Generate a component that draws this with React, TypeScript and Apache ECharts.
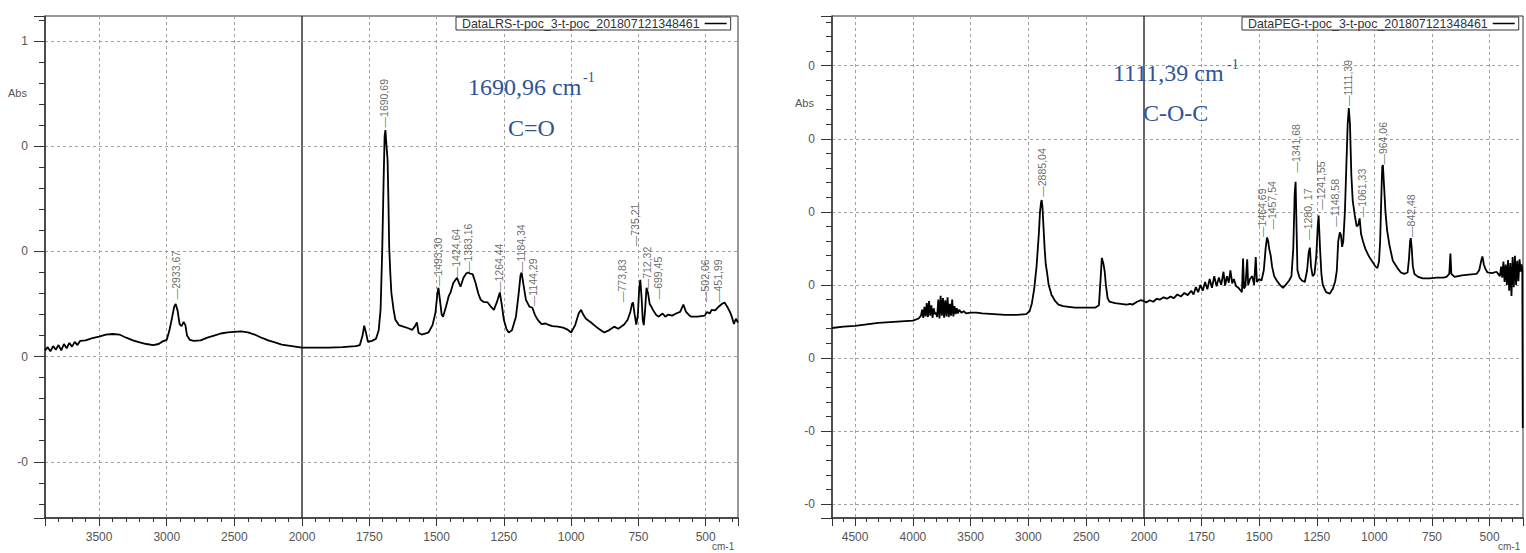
import React, { useEffect, useRef } from "react";
import * as echarts from "echarts";

const legendLeft = "DataLRS-t-poc_3-t-poc_201807121348461";
const legendRight = "DataPEG-t-poc_3-t-poc_201807121348461";

// Left spectrum (LRS): [wavenumber cm-1, absorbance]
const lrsSpectrum: [number, number][] = [
  [3900, 0.012], [3880, 0.018], [3860, 0.010], [3840, 0.020], [3820, 0.013], [3800, 0.022],
  [3780, 0.012], [3760, 0.024], [3740, 0.016], [3720, 0.026], [3700, 0.019], [3680, 0.028],
  [3660, 0.022], [3640, 0.030], [3600, 0.031], [3550, 0.035], [3500, 0.038], [3450, 0.042],
  [3400, 0.043], [3350, 0.042], [3300, 0.036], [3250, 0.031], [3200, 0.027], [3150, 0.024],
  [3100, 0.022], [3060, 0.024], [3030, 0.029], [3000, 0.032], [2980, 0.050], [2960, 0.075],
  [2945, 0.095], [2934, 0.100], [2920, 0.088], [2905, 0.062], [2890, 0.058], [2875, 0.066],
  [2862, 0.060], [2850, 0.040], [2830, 0.032], [2800, 0.030], [2750, 0.031], [2700, 0.036],
  [2650, 0.040], [2600, 0.044], [2550, 0.046], [2500, 0.047], [2450, 0.048], [2400, 0.046],
  [2350, 0.042], [2300, 0.036], [2250, 0.031], [2200, 0.027], [2150, 0.023], [2100, 0.021],
  [2050, 0.019], [2000, 0.017],
  [1950, 0.017], [1900, 0.017], [1850, 0.018], [1800, 0.020], [1785, 0.022], [1775, 0.040],
  [1769, 0.059], [1762, 0.045], [1755, 0.028], [1740, 0.030], [1725, 0.034], [1715, 0.050],
  [1708, 0.090], [1702, 0.200], [1697, 0.330], [1693, 0.420], [1690, 0.431], [1686, 0.400],
  [1682, 0.374], [1679, 0.300], [1676, 0.209], [1672, 0.160], [1668, 0.122], [1660, 0.090],
  [1653, 0.070], [1640, 0.060], [1623, 0.057], [1605, 0.054], [1590, 0.051], [1580, 0.058],
  [1573, 0.065], [1567, 0.045], [1555, 0.042], [1540, 0.044], [1530, 0.046], [1515, 0.060],
  [1504, 0.084], [1497, 0.120], [1493, 0.131], [1488, 0.110], [1481, 0.080], [1476, 0.076],
  [1465, 0.095], [1455, 0.115], [1448, 0.122], [1438, 0.140], [1424, 0.150], [1415, 0.138],
  [1411, 0.133], [1400, 0.150], [1390, 0.158], [1383, 0.160], [1375, 0.158], [1366, 0.157],
  [1355, 0.140], [1345, 0.120], [1336, 0.108], [1325, 0.104], [1310, 0.103], [1298, 0.095],
  [1287, 0.089], [1275, 0.105], [1265, 0.122], [1258, 0.100], [1250, 0.070], [1240, 0.052],
  [1232, 0.046], [1220, 0.050], [1205, 0.076], [1195, 0.120], [1188, 0.155], [1184, 0.160],
  [1178, 0.140], [1168, 0.108], [1155, 0.095], [1144, 0.093], [1135, 0.080], [1124, 0.070],
  [1110, 0.062], [1095, 0.063], [1086, 0.061], [1070, 0.058], [1049, 0.057], [1030, 0.055],
  [1015, 0.052], [1000, 0.046], [985, 0.060], [972, 0.082], [963, 0.089], [955, 0.080],
  [945, 0.072], [926, 0.065], [910, 0.058], [895, 0.052], [877, 0.046], [860, 0.050],
  [840, 0.057], [825, 0.053], [803, 0.061], [790, 0.070], [780, 0.085], [774, 0.100],
  [770, 0.103], [764, 0.080], [758, 0.061], [752, 0.080], [747, 0.130], [743, 0.146],
  [738, 0.110], [734, 0.070], [730, 0.060], [725, 0.090], [720, 0.131], [714, 0.120],
  [708, 0.100], [702, 0.095], [695, 0.088], [685, 0.080], [676, 0.076], [660, 0.082],
  [650, 0.076], [639, 0.080], [625, 0.078], [610, 0.082], [595, 0.085], [583, 0.099],
  [573, 0.085], [560, 0.078], [553, 0.076], [530, 0.076], [504, 0.078], [495, 0.085],
  [485, 0.082], [478, 0.089], [465, 0.088], [452, 0.095], [440, 0.100], [430, 0.103],
  [420, 0.095], [410, 0.085], [403, 0.076], [395, 0.062], [388, 0.072], [380, 0.065],
];

const lrsPeakWn = [2933.67, 1690.69, 1493.3, 1424.64, 1383.16, 1264.44, 1184.34, 1144.29, 773.83, 735.21, 712.32, 699.45, 502.06, 451.99];
const lrsPeakLabel = ["2933,67", "1690,69", "1493,30", "1424,64", "1383,16", "1264,44", "1184,34", "1144,29", "773,83", "735,21", "712,32", "699,45", "502,06", "451,99"];
// wavenumber where each label is written, and the absorbance where its leader starts
const lrsPeakLabelWn = [2931, 1695, 1495, 1428, 1383, 1268, 1186, 1142, 811, 763, 718, 677, 502, 454];
const lrsPeakAbs = [0.108, 0.435, 0.133, 0.150, 0.160, 0.122, 0.160, 0.095, 0.103, 0.209, 0.127, 0.108, 0.103, 0.103];

// Right spectrum (PEG)
const pegSpectrum: [number, number][] = [
  [4700, 0.041], [4600, 0.043], [4500, 0.044], [4400, 0.046], [4300, 0.048], [4200, 0.049],
  [4100, 0.050], [4000, 0.051], [3950, 0.054], [3930, 0.058], [3920, 0.066], [3910, 0.055],
  [3900, 0.070], [3890, 0.057], [3880, 0.075], [3870, 0.056], [3860, 0.078], [3850, 0.058],
  [3840, 0.072], [3830, 0.055], [3820, 0.068], [3810, 0.060], [3800, 0.062], [3790, 0.056],
  [3780, 0.080], [3770, 0.054], [3760, 0.085], [3750, 0.058], [3740, 0.082], [3730, 0.055],
  [3720, 0.079], [3710, 0.057], [3700, 0.083], [3690, 0.056], [3680, 0.074], [3670, 0.058],
  [3660, 0.080], [3650, 0.057], [3640, 0.071], [3630, 0.060], [3620, 0.068], [3610, 0.061],
  [3600, 0.066], [3580, 0.062], [3560, 0.064], [3540, 0.061], [3500, 0.062], [3450, 0.062],
  [3400, 0.061], [3300, 0.060], [3200, 0.059], [3100, 0.059], [3020, 0.060], [2990, 0.064],
  [2970, 0.075], [2950, 0.095], [2930, 0.125], [2910, 0.170], [2900, 0.200], [2890, 0.214],
  [2885, 0.216], [2878, 0.205], [2870, 0.180], [2860, 0.150], [2850, 0.128], [2840, 0.118],
  [2825, 0.100], [2810, 0.092], [2800, 0.086], [2787, 0.083], [2770, 0.078], [2740, 0.073],
  [2700, 0.071], [2600, 0.069], [2500, 0.069], [2420, 0.069], [2390, 0.072], [2375, 0.110],
  [2365, 0.137], [2358, 0.133], [2350, 0.128], [2340, 0.118], [2330, 0.100], [2315, 0.082],
  [2300, 0.077], [2250, 0.075], [2200, 0.074], [2150, 0.073], [2120, 0.074], [2100, 0.073],
  [2060, 0.077], [2030, 0.079], [2000, 0.078],
  [1990, 0.076], [1975, 0.079], [1960, 0.077], [1945, 0.081], [1930, 0.080], [1915, 0.083],
  [1900, 0.081], [1885, 0.084], [1870, 0.082], [1855, 0.087], [1840, 0.084], [1825, 0.089],
  [1810, 0.086], [1795, 0.092], [1785, 0.087], [1775, 0.097], [1765, 0.090], [1755, 0.100],
  [1745, 0.092], [1735, 0.104], [1725, 0.094], [1715, 0.108], [1705, 0.096], [1695, 0.112],
  [1685, 0.098], [1675, 0.110], [1665, 0.100], [1655, 0.118], [1648, 0.099], [1640, 0.112],
  [1632, 0.103], [1625, 0.120], [1617, 0.102], [1610, 0.108], [1600, 0.098], [1590, 0.096],
  [1580, 0.092], [1575, 0.090], [1570, 0.136], [1566, 0.095], [1560, 0.098], [1552, 0.135],
  [1548, 0.100], [1540, 0.108], [1530, 0.112], [1522, 0.100], [1515, 0.138], [1510, 0.104],
  [1500, 0.108], [1490, 0.106], [1480, 0.120], [1472, 0.150], [1466, 0.165], [1461, 0.160],
  [1457, 0.150], [1450, 0.140], [1444, 0.125], [1435, 0.112], [1424, 0.106], [1410, 0.100],
  [1397, 0.096], [1385, 0.100], [1370, 0.106], [1360, 0.112], [1352, 0.150], [1346, 0.225],
  [1342, 0.241], [1338, 0.180], [1334, 0.120], [1325, 0.110], [1315, 0.106], [1302, 0.104],
  [1292, 0.120], [1285, 0.145], [1280, 0.151], [1275, 0.125], [1268, 0.112], [1260, 0.115],
  [1252, 0.140], [1246, 0.180], [1242, 0.195], [1236, 0.150], [1230, 0.115], [1224, 0.100],
  [1210, 0.090], [1194, 0.088], [1180, 0.095], [1170, 0.105], [1163, 0.120], [1157, 0.160],
  [1150, 0.172], [1145, 0.168], [1140, 0.152], [1135, 0.160], [1128, 0.200], [1122, 0.260],
  [1116, 0.320], [1111, 0.342], [1106, 0.320], [1100, 0.250], [1094, 0.215], [1085, 0.195],
  [1077, 0.180], [1070, 0.182], [1064, 0.191], [1058, 0.170], [1050, 0.160], [1040, 0.150],
  [1030, 0.143], [1020, 0.137], [1005, 0.130], [995, 0.125], [987, 0.123], [980, 0.132],
  [975, 0.160], [970, 0.220], [966, 0.262], [963, 0.264], [958, 0.235], [952, 0.200],
  [945, 0.175], [935, 0.155], [920, 0.133], [900, 0.123], [885, 0.117], [870, 0.115],
  [856, 0.117], [850, 0.135], [845, 0.160], [842, 0.164], [838, 0.150], [833, 0.125],
  [826, 0.115], [810, 0.111], [790, 0.109], [760, 0.109], [730, 0.110], [700, 0.110],
  [687, 0.111], [675, 0.115], [670, 0.143], [666, 0.115], [652, 0.111], [620, 0.113],
  [590, 0.114], [557, 0.115], [545, 0.120], [535, 0.135], [531, 0.139], [525, 0.128],
  [518, 0.122], [509, 0.117], [490, 0.116], [470, 0.118], [455, 0.112], [450, 0.125],
  [445, 0.110], [440, 0.132], [435, 0.104], [430, 0.128], [425, 0.100], [420, 0.134],
  [415, 0.092], [410, 0.130], [405, 0.085], [400, 0.138], [395, 0.097], [390, 0.140],
  [385, 0.100], [380, 0.133], [375, 0.105], [370, 0.135], [365, 0.118], [361, 0.128],
  [358, 0.120], [356, -0.096],
];

const pegPeakWn = [2885.04, 1464.69, 1457.54, 1341.68, 1280.17, 1241.55, 1148.58, 1111.39, 1061.33, 964.06, 842.48];
const pegPeakLabel = ["2885,04", "1464,69", "1457,54", "1341,68", "1280, 17", "1241,55", "1148,58", "1111,39", "1061,33", "964,06", "842,48"];
const pegPeakLabelWn = [2885, 1489, 1445, 1341, 1289, 1233, 1172, 1116, 1055, 964, 843];
const pegPeakAbs = [0.220, 0.165, 0.175, 0.253, 0.161, 0.202, 0.179, 0.344, 0.192, 0.264, 0.165];

const xLabelsLrsUpper = ["3500", "3000", "2500"];
const xLabelsPegUpper = ["4500", "4000", "3500", "3000", "2500"];
const xLabelsLower = ["2000", "1750", "1500", "1250", "1000", "750", "500"];

const yTicksLrs = [-0.2, 0, 0.2, 0.4, 0.6];
const yLabelsLrs = ["-0", "0", "0", "0", "1"];
const yTicksPeg = [-0.2, -0.1, 0, 0.1, 0.2, 0.3, 0.4];
const yLabelsPeg = ["-0", "-0", "0", "0", "0", "0", "0"];

const axisColor = "#333";
const labelColor = "#555";
const gridLine = { show: true, showMinLine: false, showMaxLine: false, lineStyle: { type: [3, 3] as any, color: "#a0a0a0", width: 1 } };

function lookup(vals: number[], labels: string[], v: number) {
  const i = vals.findIndex((t) => Math.abs(t - v) < 1e-6);
  return i >= 0 ? labels[i] : "";
}

function xAxisDef(gridIndex: number, min: number, max: number, interval: number, inverse: boolean, labels: string[], negate: boolean) {
  return {
    type: "value",
    gridIndex,
    position: "bottom",
    min,
    max,
    interval,
    inverse,
    axisLine: { show: true, onZero: false, lineStyle: { color: axisColor, width: 1.5 } },
    axisTick: { show: true, length: 8, lineStyle: { color: axisColor } },
    minorTick: { show: true, splitNumber: 5, length: 4, lineStyle: { color: axisColor } },
    axisLabel: {
      margin: 13,
      color: labelColor,
      fontSize: 12,
      fontFamily: "Liberation Sans",
      showMinLabel: true,
      showMaxLabel: true,
      formatter: (v: number) => {
        const s = String(Math.round(negate ? -v : v));
        return labels.includes(s) ? s : "";
      },
    },
    splitLine: gridLine,
  };
}

function yAxisDef(gridIndex: number, min: number, max: number, ticks: number[], labels: string[], visible: boolean) {
  return {
    type: "value",
    gridIndex,
    position: "left",
    min,
    max,
    axisLine: { show: visible, onZero: false, lineStyle: { color: axisColor, width: 1.5 } },
    axisTick: { show: visible, length: 11, lineStyle: { color: axisColor } },
    minorTick: { show: visible, splitNumber: 5, length: 6, lineStyle: { color: axisColor } },
    axisLabel: {
      show: visible,
      margin: 17,
      color: labelColor,
      fontSize: 12,
      fontFamily: "Liberation Sans",
      formatter: (v: number) => lookup(ticks, labels, v),
    },
    splitLine: gridLine,
  };
}

const upperPts = (pts: [number, number][]) => pts.filter((p) => p[0] >= 2000).map((p) => [p[0], p[1]]);
const lowerPts = (pts: [number, number][]) => pts.filter((p) => p[0] <= 2000).map((p) => [-p[0], p[1]]);

function peakData(wn: number[], labels: string[], labelWn: number[], abs: number[], upper: boolean) {
  const out: any[] = [];
  wn.forEach((w, i) => {
    const lw = labelWn[i];
    if (upper ? w >= 2000 : w < 2000) out.push({ name: labels[i], value: [upper ? lw : -lw, abs[i]] });
  });
  return out;
}

function lineSeries(name: string, xi: number, data: any[]) {
  return {
    type: "line",
    name,
    xAxisIndex: xi,
    yAxisIndex: xi,
    data,
    color: "#000",
    symbol: "none",
    showSymbol: false,
    lineStyle: { color: "#000", width: 1.8 },
    z: 3,
  };
}

function peakSeries(xi: number, data: any[]) {
  return {
    type: "scatter",
    xAxisIndex: xi,
    yAxisIndex: xi,
    data,
    symbol: "circle",
    symbolSize: 1,
    itemStyle: { color: "rgba(0,0,0,0)" },
    silent: true,
    z: 4,
    label: {
      show: true,
      position: "top",
      distance: 0,
      rotate: 90,
      align: "left",
      verticalAlign: "middle",
      formatter: "\u2014{b}",
      color: "#444",
      fontSize: 10.5,
      fontFamily: "Liberation Sans",
    },
  };
}

const blue = "#2F5496";
function txt(x: number, y: number, text: string, size: number, fill: string, family: string, va = "middle") {
  return {
    type: "text",
    x,
    y,
    silent: true,
    z: 10,
    style: { text, fontSize: size, fill, fontFamily: family, verticalAlign: va, align: "left" },
  };
}

function legendDef(name: string, left: number) {
  return {
    data: [name],
    left,
    top: 17,
    align: "right",
    icon: "rect",
    itemWidth: 22,
    itemHeight: 1.5,
    padding: [0, 4, 0, 6],
    borderColor: axisColor,
    borderWidth: 1,
    backgroundColor: "#fff",
    selectedMode: false,
    textStyle: { fontSize: 12.4, lineHeight: 13, color: "#333", fontFamily: "Liberation Sans" },
  };
}

export default function App() {
  const ref = useRef<HTMLDivElement>(null);
  useEffect(() => {
    if (!ref.current) return;
    const chart = echarts.init(ref.current, undefined, { renderer: "svg" });
    const gridBase = { show: true, borderColor: axisColor, borderWidth: 1, backgroundColor: "transparent", containLabel: false };
    chart.setOption({
      animation: false,
      backgroundColor: "#fff",
      grid: [
        { ...gridBase, left: 45, top: 16, width: 257, height: 502 },
        { ...gridBase, left: 302, top: 16, width: 436, height: 502 },
        { ...gridBase, left: 832, top: 16, width: 312, height: 502 },
        { ...gridBase, left: 1144, top: 16, width: 379, height: 502 },
      ],
      xAxis: [
        xAxisDef(0, 2000, 3900, 500, true, xLabelsLrsUpper, false),
        xAxisDef(1, -2000, -380, 250, false, xLabelsLower, true),
        xAxisDef(2, 2000, 4700, 500, true, xLabelsPegUpper, false),
        xAxisDef(3, -2000, -355, 250, false, xLabelsLower, true),
      ],
      yAxis: [
        yAxisDef(0, -0.307, 0.648, yTicksLrs, yLabelsLrs, true),
        yAxisDef(1, -0.307, 0.648, yTicksLrs, yLabelsLrs, false),
        yAxisDef(2, -0.219, 0.468, yTicksPeg, yLabelsPeg, true),
        yAxisDef(3, -0.219, 0.468, yTicksPeg, yLabelsPeg, false),
      ],
      legend: [legendDef(legendLeft, 456), legendDef(legendRight, 1242)],
      series: [
        lineSeries(legendLeft, 0, upperPts(lrsSpectrum)),
        lineSeries(legendLeft, 1, lowerPts(lrsSpectrum)),
        lineSeries(legendRight, 2, upperPts(pegSpectrum)),
        lineSeries(legendRight, 3, lowerPts(pegSpectrum)),
        peakSeries(0, peakData(lrsPeakWn, lrsPeakLabel, lrsPeakLabelWn, lrsPeakAbs, true)),
        peakSeries(1, peakData(lrsPeakWn, lrsPeakLabel, lrsPeakLabelWn, lrsPeakAbs, false)),
        peakSeries(2, peakData(pegPeakWn, pegPeakLabel, pegPeakLabelWn, pegPeakAbs, true)),
        peakSeries(3, peakData(pegPeakWn, pegPeakLabel, pegPeakLabelWn, pegPeakAbs, false)),
      ],
      graphic: [
        txt(468, 87, "1690,96 cm", 24, blue, "Liberation Serif"),
        txt(583, 77, "-1", 14, blue, "Liberation Serif"),
        txt(508, 128, "C=O", 24, blue, "Liberation Serif"),
        txt(1113, 73, "1111,39 cm", 24, blue, "Liberation Serif"),
        txt(1227, 64, "-1", 14, blue, "Liberation Serif"),
        txt(1143, 113, "C-O-C", 24, blue, "Liberation Serif"),
        txt(8, 93, "Abs", 11, labelColor, "Liberation Sans"),
        txt(795, 103, "Abs", 11, labelColor, "Liberation Sans"),
        txt(712, 541, "cm-1", 10, labelColor, "Liberation Sans", "top"),
        txt(1498, 541, "cm-1", 10, labelColor, "Liberation Sans", "top"),
      ],
    });
    return () => chart.dispose();
  }, []);
  return <div ref={ref} style={{ position: "absolute", left: 0, top: 0, width: 1526, height: 553 }} />;
}
